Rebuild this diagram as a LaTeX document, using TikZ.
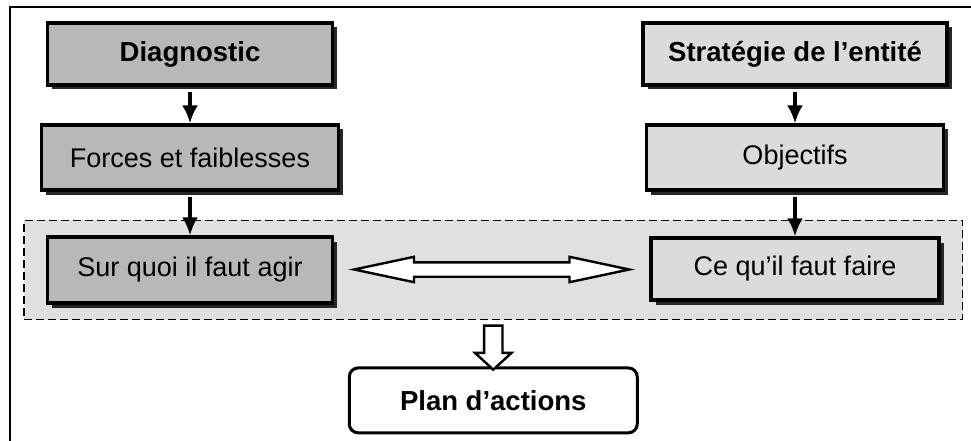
\documentclass[tikz,border=0pt]{standalone}
\usepackage{fontspec}
\setmainfont{Liberation Sans}
\usetikzlibrary{positioning, calc, fit, backgrounds, shadows, shapes.arrows, arrows.meta}
\tikzset{
	darkbox/.style={draw, rectangle, line width=3.2pt, inner sep=0pt, fill=black!28, text centered,
		drop shadow={shadow xshift=4.5pt, shadow yshift=-4.5pt, fill=black!85, opacity=1},
		font=\fontsize{27}{31}\selectfont},
	lightbox/.style={darkbox, fill=black!14},
	titlebox/.style={font=\fontsize{27.5}{31}\selectfont\bfseries},
	% hollow arrows
	hollow/.style={draw, fill=white, line width=2.4pt, inner sep=0pt},
}

\begin{document}
\begin{tikzpicture}[x=1pt, y=-1pt, node distance=103.5pt]
	
	\useasboundingbox (0,0) rectangle (971,441);
	\draw [line width=2pt] (10,7) rectangle (976,446);
	
	\node (diag) [darkbox, titlebox, minimum width=285pt, minimum height=62pt] at (190,54) {Diagnostic};
	
	\node (forces) [darkbox, below of=diag, minimum width=297pt, minimum height=65pt] {Forces et faiblesses};
	
	\node (sur) [darkbox, below of=forces, yshift=-9pt, minimum width=285pt, minimum height=66pt] {Sur quoi il faut agir};
	
	\node (strat) [lightbox, titlebox, right of=diag, xshift=501.5pt, minimum width=304pt, minimum height=62pt] {Stratégie de l’entité};
	
	\node (obj) [lightbox, below of=strat, minimum width=297pt, minimum height=65pt] {Objectifs};
	
	\node (cefaire) [lightbox, below of=obj, yshift=-8pt, minimum width=288pt, minimum height=62pt] {Ce qu’il faut faire};
	
	%\node (group) [fit=(sur)(cefaire)] {};
	\begin{scope}[on background layer]
		\node (group) [draw, dashed, dash pattern=on 8pt off 4pt, line width=1.6pt, fill=black!12,
			fit=(sur)(cefaire), inner xsep=22pt, inner ysep=15pt] {};
	\end{scope}
	
	\node (plan) [draw, rounded corners=9pt, line width=3pt, fill=white, titlebox, below=46pt of group,
		minimum width=288pt, minimum height=65pt] {Plan d’actions};
	
	\node (link) [hollow, double arrow, minimum height=275pt, inner sep=6pt,
		double arrow head extend=5.5pt, double arrow tip angle=24]
		at ($(sur.east)!0.5!(cefaire.west)$) {};
	
	\node (down) [hollow, single arrow, shape border rotate=270, minimum height=44pt, inner sep=8pt,
		single arrow head extend=9pt, single arrow tip angle=95]
		at ($(group.south)!0.5!(plan.north)$) {};
	
	\begin{scope}[line width=4pt, black, ->, >={Latex[length=18pt, width=16pt]}]
		\draw (diag.south) ++(0,5) -- (forces.north);
		\draw (forces.south) ++(0,5) -- (sur.north);
		\draw (strat.south) ++(0,5) -- (obj.north);
		\draw (obj.south) ++(0,5) -- (cefaire.north);
	\end{scope}
	
\end{tikzpicture}
\end{document}
